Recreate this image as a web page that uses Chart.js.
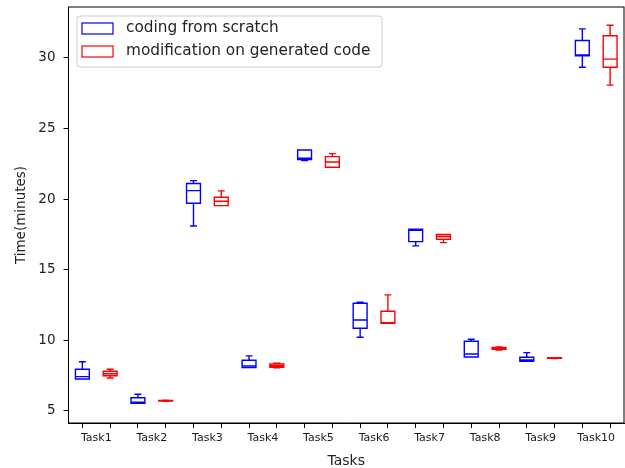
<!DOCTYPE html>
<html>
<head>
<meta charset="utf-8">
<script src="https://cdn.jsdelivr.net/npm/chart.js@4.4.1/dist/chart.umd.min.js"></script>
<style>
  html, body { margin: 0; padding: 0; background: #fff; }
  #wrap { width: 625px; height: 468px; }
</style>
</head>
<body>
<div id="wrap"><canvas id="boxChart"></canvas></div>
<script>
    // Tasks and box stats: [low whisker, q1, median, q3, high whisker]
    const tasks = ['Task1', 'Task2', 'Task3', 'Task4', 'Task5', 'Task6', 'Task7', 'Task8', 'Task9', 'Task10'];
    const scratch = [
        [7.27, 7.27, 7.43, 7.95, 8.49],
        [5.54, 5.54, 5.62, 5.94, 6.18],
        [18.10, 19.71, 20.60, 21.10, 21.31],
        [8.07, 8.07, 8.18, 8.59, 8.90],
        [22.73, 22.80, 22.90, 23.48, 23.48],
        [10.22, 10.86, 11.44, 12.63, 12.70],
        [16.69, 16.99, 17.80, 17.87, 17.87],
        [8.82, 8.82, 9.04, 9.94, 10.08],
        [8.52, 8.52, 8.62, 8.80, 9.13],
        [29.34, 30.14, 30.20, 31.23, 32.05]
    ];
    const modified = [
        [7.34, 7.50, 7.64, 7.81, 7.95],
        [5.69, 5.71, 5.73, 5.75, 5.77],
        [19.54, 19.54, 19.85, 20.13, 20.58],
        [8.05, 8.10, 8.20, 8.33, 8.38],
        [22.26, 22.26, 22.63, 23.01, 23.22],
        [11.21, 11.21, 11.25, 12.06, 13.22],
        [16.92, 17.16, 17.35, 17.49, 17.49],
        [9.32, 9.36, 9.43, 9.50, 9.53],
        [8.72, 8.73, 8.75, 8.77, 8.78],
        [28.07, 29.34, 29.91, 31.56, 32.31]
    ];
    const seriesNames = ['coding from scratch', 'modification on generated code'];
    const seriesColors = ['#0000ff', '#ff0000'];
    const yTicks = [5, 10, 15, 20, 25, 30];

    // each task gets two slots on the x axis: 1,2 for Task1, 3,4 for Task2 ...
    const slot = (i, s) => 1 + 2 * i + s;

    const boxPlugin = {
        id: 'boxes',
        afterDatasetsDraw(chart) {
            const ctx = chart.ctx;
            const x = chart.scales.x, y = chart.scales.y;
            chart.data.datasets.forEach((ds, s) => {
                ctx.save();
                ctx.strokeStyle = ds.borderColor;
                ctx.lineWidth = 1.4;
                ds.stats.forEach((st, i) => {
                    const pos = slot(i, s);
                    const xc = x.getPixelForValue(pos);
                    const hw = x.getPixelForValue(pos + 0.25) - xc;
                    const cw = hw / 2;
                    const [lo, q1, med, q3, hi] = st.map(v => y.getPixelForValue(v));
                    ctx.beginPath();
                    ctx.rect(xc - hw, q3, hw * 2, q1 - q3);
                    ctx.moveTo(xc - hw, med); ctx.lineTo(xc + hw, med);
                    ctx.moveTo(xc, q3); ctx.lineTo(xc, hi);
                    ctx.moveTo(xc, q1); ctx.lineTo(xc, lo);
                    ctx.moveTo(xc - cw, hi); ctx.lineTo(xc + cw, hi);
                    ctx.moveTo(xc - cw, lo); ctx.lineTo(xc + cw, lo);
                    ctx.stroke();
                });
                ctx.restore();
            });
        },
        afterDraw(chart) {
            const ctx = chart.ctx;
            const a = chart.chartArea;
            ctx.save();
            // frame
            ctx.strokeStyle = '#000';
            ctx.lineWidth = 1;
            ctx.strokeRect(a.left, a.top, a.right - a.left, a.bottom - a.top);

            // legend inside the plot, top left
            const lx = a.left + 8.5, ly = a.top + 9, lw = 305, lh = 51;
            ctx.fillStyle = 'rgba(255,255,255,0.8)';
            ctx.strokeStyle = '#cccccc';
            ctx.beginPath();
            ctx.roundRect(lx, ly, lw, lh, 3);
            ctx.fill();
            ctx.stroke();
            ctx.font = '15.3px "DejaVu Sans"';
            ctx.textBaseline = 'middle';
            chart.data.datasets.forEach((ds, s) => {
                const ry = ly + 12.5 + s * 23;
                ctx.strokeStyle = ds.borderColor;
                ctx.lineWidth = 1.2;
                ctx.strokeRect(lx + 5, ry - 5.5, 31, 11);
                ctx.fillStyle = '#222';
                ctx.fillText(ds.label, lx + 49, ry);
            });
            ctx.restore();
        }
    };

    const ctx = document.getElementById('boxChart').getContext('2d');
    new Chart(ctx, {
        type: 'scatter',
        data: {
            datasets: [scratch, modified].map((stats, s) => ({
                label: seriesNames[s],
                stats: stats,
                data: stats.map((st, i) => ({ x: slot(i, s), y: st[2] })),
                borderColor: seriesColors[s],
                backgroundColor: '#fff',
                pointRadius: 0
            }))
        },
        options: {
            responsive: true,
            maintainAspectRatio: false,
            animation: false,
            layout: { padding: { top: 7, right: 1, left: 0, bottom: 0 } },
            plugins: {
                legend: { display: false },
                tooltip: { enabled: false }
            },
            scales: {
                x: {
                    type: 'linear',
                    min: 0.5,
                    max: 20.5,
                    afterBuildTicks: scale => {
                        const t = [];
                        tasks.forEach((name, i) => {
                            t.push({ value: slot(i, 0) });
                            t.push({ value: slot(i, 0) + 0.5 });
                            t.push({ value: slot(i, 1) });
                        });
                        scale.ticks = t;
                    },
                    afterFit: scale => {
                        scale.height = 45;
                        scale.paddingLeft = 0;
                        scale.paddingRight = 0;
                    },
                    grid: {
                        drawOnChartArea: false,
                        tickLength: 5,
                        tickWidth: 1,
                        tickColor: c => (c.tick && !Number.isInteger(c.tick.value)) ? 'rgba(0,0,0,0)' : '#000'
                    },
                    border: { display: true, color: '#000' },
                    ticks: {
                        autoSkip: false,
                        maxRotation: 0,
                        padding: 4,
                        color: '#1a1a1a',
                        font: { family: 'DejaVu Sans', size: 11 },
                        callback: v => Number.isInteger(v) ? '' : tasks[(v - 1.5) / 2]
                    },
                    title: {
                        display: true,
                        text: 'Tasks',
                        color: '#222',
                        font: { family: 'DejaVu Sans', size: 14 },
                        padding: { top: 0, bottom: -2 }
                    }
                },
                y: {
                    min: 4.15,
                    max: 33.6,
                    afterBuildTicks: scale => { scale.ticks = yTicks.map(v => ({ value: v })); },
                    afterFit: scale => {
                        scale.width = 68.5;
                        scale.paddingTop = 0;
                        scale.paddingBottom = 0;
                    },
                    grid: { drawOnChartArea: false, tickLength: 5, color: '#000' },
                    border: { display: true, color: '#000' },
                    ticks: {
                        padding: 8,
                        color: '#222',
                        font: { family: 'DejaVu Sans', size: 13.5 }
                    },
                    title: {
                        display: true,
                        text: 'Time(minutes)',
                        color: '#222',
                        font: { family: 'DejaVu Sans', size: 13.5 },
                        padding: { top: 13, bottom: 0 }
                    }
                }
            }
        },
        plugins: [boxPlugin]
    });
</script>
</body>
</html>
